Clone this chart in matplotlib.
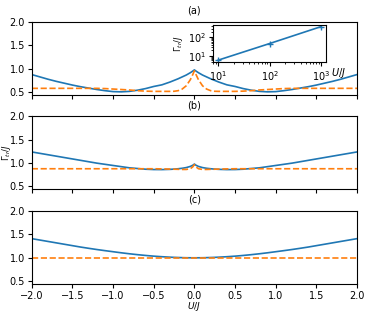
import matplotlib
matplotlib.use("Agg")
import matplotlib.pyplot as plt

# U/J sample positions
U = [-2.0, -1.9, -1.8, -1.7, -1.6, -1.5, -1.4, -1.3, -1.2, -1.1, -1.0, -0.9, -0.8, -0.7, -0.6,
     -0.5, -0.4, -0.3, -0.25, -0.2, -0.15, -0.1, -0.05, -0.02, 0.0,
     0.02, 0.05, 0.1, 0.15, 0.2, 0.25, 0.3, 0.4, 0.5, 0.6, 0.7, 0.8, 0.9, 1.0,
     1.1, 1.2, 1.3, 1.4, 1.5, 1.6, 1.7, 1.8, 1.9, 2.0]

# panel (a)
a_solid = [0.87, 0.82, 0.77, 0.725, 0.685, 0.645, 0.61, 0.58, 0.55, 0.525, 0.505, 0.50, 0.51, 0.535, 0.57,
           0.615, 0.65, 0.71, 0.745, 0.78, 0.82, 0.86, 0.91, 0.945, 0.97,
           0.945, 0.91, 0.86, 0.82, 0.78, 0.745, 0.71, 0.65, 0.615, 0.57, 0.535, 0.51, 0.50, 0.505,
           0.525, 0.55, 0.58, 0.61, 0.645, 0.685, 0.725, 0.77, 0.82, 0.87]
a_dash = [0.575, 0.575, 0.575, 0.575, 0.575, 0.575, 0.575, 0.575, 0.575, 0.57, 0.56, 0.55, 0.54, 0.525, 0.515,
          0.51, 0.51, 0.51, 0.512, 0.525, 0.56, 0.63, 0.76, 0.87, 0.95,
          0.87, 0.76, 0.63, 0.56, 0.525, 0.512, 0.51, 0.51, 0.51, 0.515, 0.525, 0.54, 0.55, 0.56,
          0.57, 0.575, 0.575, 0.575, 0.575, 0.575, 0.575, 0.575, 0.575, 0.575]

# panel (b)
b_solid = [1.24, 1.21, 1.18, 1.15, 1.12, 1.09, 1.06, 1.03, 1.0, 0.975, 0.95, 0.925, 0.90, 0.885, 0.87,
           0.863, 0.862, 0.867, 0.872, 0.88, 0.89, 0.905, 0.93, 0.955, 0.98,
           0.955, 0.93, 0.905, 0.89, 0.88, 0.872, 0.867, 0.862, 0.863, 0.87, 0.885, 0.90, 0.925, 0.95,
           0.975, 1.0, 1.03, 1.06, 1.09, 1.12, 1.15, 1.18, 1.21, 1.24]
b_dash = [0.88, 0.88, 0.88, 0.88, 0.88, 0.88, 0.88, 0.88, 0.88, 0.88, 0.88, 0.88, 0.88, 0.88, 0.88,
          0.88, 0.877, 0.873, 0.870, 0.868, 0.865, 0.865, 0.88, 0.92, 0.97,
          0.92, 0.88, 0.865, 0.865, 0.868, 0.870, 0.873, 0.877, 0.88, 0.88, 0.88, 0.88, 0.88, 0.88,
          0.88, 0.88, 0.88, 0.88, 0.88, 0.88, 0.88, 0.88, 0.88, 0.88]

# panel (c)
c_solid = [1.41, 1.38, 1.35, 1.32, 1.29, 1.26, 1.23, 1.203, 1.177, 1.153, 1.13, 1.107, 1.086, 1.067, 1.05,
           1.035, 1.023, 1.013, 1.009, 1.006, 1.003, 1.001, 1.0, 1.0, 1.0,
           1.0, 1.0, 1.001, 1.003, 1.006, 1.009, 1.013, 1.023, 1.035, 1.05, 1.067, 1.086, 1.107, 1.13,
           1.153, 1.177, 1.203, 1.23, 1.26, 1.29, 1.32, 1.35, 1.38, 1.41]
c_dash = [1.0] * len(U)

# inset
inset_U = [10, 100, 1000]
inset_G = [6.0, 47.0, 383.0]

titles = ["(a)", "(b)", "(c)"]
xticks = [-2.0, -1.5, -1.0, -0.5, 0.0, 0.5, 1.0, 1.5, 2.0]
yticks = [0.5, 1.0, 1.5, 2.0]

FS = 7
plt.rcParams['font.size'] = FS
fig, axes = plt.subplots(3, 1, figsize=(3.74, 3.12), dpi=100, sharex=True)
fig.subplots_adjust(left=0.085, right=0.9545, bottom=0.09, top=0.93, hspace=0.30)

data = [(a_solid, a_dash), (b_solid, b_dash), (c_solid, c_dash)]
for ax, (s, d), t in zip(axes, data, titles):
    ax.plot(U, s, color='tab:blue', lw=1.2)
    ax.plot(U, d, color='tab:orange', lw=1.2, ls='--')
    ax.set_xlim(-2, 2)
    ax.set_ylim(0.44, 2.0)
    ax.set_yticks(yticks)
    ax.set_xticks(xticks)
    ax.set_title(t, fontsize=FS)
    ax.tick_params(labelsize=FS, length=3, pad=2)

axes[1].set_ylabel(r'$\Gamma_{tr}/J$', fontsize=6)
axes[1].yaxis.set_label_coords(-0.057, 0.5)
axes[2].set_xlabel(r'$U/J$', fontsize=6.5)
axes[2].xaxis.set_label_coords(0.5, -0.22)

ins = fig.add_axes([0.570, 0.802, 0.302, 0.118])
ins.plot(inset_U, inset_G, color='tab:blue', lw=1.2, marker='+', ms=4)
ins.set_xscale('log')
ins.set_yscale('log')
ins.tick_params(labelsize=FS, length=3, pad=2)
ins.tick_params(which='minor', length=1.5)
ins.set_ylabel(r'$\Gamma_{tr}/J$', fontsize=6)
ins.yaxis.set_label_coords(-0.25, 0.5)
ins.text(1.11, -0.31, r'$U/J$', transform=ins.transAxes, ha='center', va='center', fontsize=FS)

fig.savefig('out.png', dpi=100)
